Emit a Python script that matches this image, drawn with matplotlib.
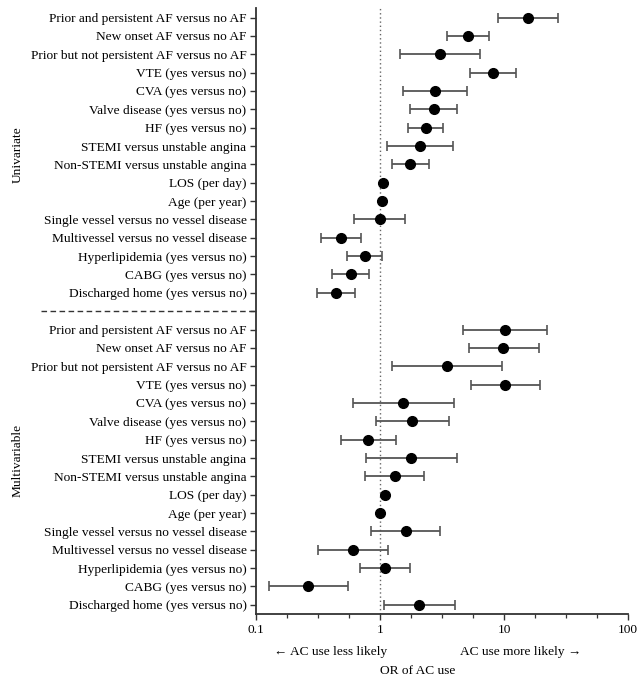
import matplotlib
matplotlib.use("Agg")
import matplotlib.pyplot as plt
from matplotlib.ticker import FixedLocator, NullFormatter
import numpy as np

plt.rcParams["font.family"] = ["Liberation Serif", "DejaVu Serif"]

labels = [
    "Prior and persistent AF versus no AF",
    "New onset AF versus no AF",
    "Prior but not persistent AF versus no AF",
    "VTE (yes versus no)",
    "CVA (yes versus no)",
    "Valve disease (yes versus no)",
    "HF (yes versus no)",
    "STEMI versus unstable angina",
    "Non-STEMI versus unstable angina",
    "LOS (per day)",
    "Age (per year)",
    "Single vessel versus no vessel disease",
    "Multivessel versus no vessel disease",
    "Hyperlipidemia (yes versus no)",
    "CABG (yes versus no)",
    "Discharged home (yes versus no)",
]

# univariate odds ratios and 95% CI (None = no CI drawn)
uni_or = [15.6, 5.1, 3.04, 8.2, 2.79, 2.72, 2.34, 2.08, 1.75, 1.06, 1.03, 0.99, 0.48, 0.75, 0.58, 0.44]
uni_lo = [9.0, 3.48, 1.44, 5.3, 1.53, 1.75, 1.69, 1.13, 1.25, None, None, 0.615, 0.33, 0.54, 0.41, 0.31]
uni_hi = [27.2, 7.6, 6.4, 12.6, 5.0, 4.2, 3.23, 3.87, 2.48, None, None, 1.58, 0.70, 1.03, 0.81, 0.63]

# multivariable odds ratios and 95% CI
mv_or = [10.2, 9.9, 3.46, 10.2, 1.54, 1.81, 0.80, 1.77, 1.31, 1.10, 1.0, 1.61, 0.605, 1.10, 0.26, 2.07]
mv_lo = [4.66, 5.17, 1.25, 5.4, 0.605, 0.92, 0.48, 0.77, 0.75, None, None, 0.84, 0.316, 0.69, 0.126, 1.08]
mv_hi = [22.4, 19.1, 9.6, 19.4, 3.92, 3.57, 1.33, 4.17, 2.27, None, None, 3.06, 1.16, 1.75, 0.55, 4.01]

x_ticks = [0.1, 1, 10, 100]
x_ticklabels = ["0.1", "1", "10", "100"]

n = len(labels)
ypos_uni = np.arange(n)
ypos_mv = np.arange(n) + n + 1
sep_y = n

fig = plt.figure(figsize=(6.44, 6.82), dpi=100)
ax = fig.add_axes([0.398, 0.0997, 0.577, 0.888])

line_col = "#555555"
for ypos, ors, los, his in [(ypos_uni, uni_or, uni_lo, uni_hi), (ypos_mv, mv_or, mv_lo, mv_hi)]:
    for y, o, lo, hi in zip(ypos, ors, los, his):
        if lo is not None:
            ax.errorbar([o], [y], xerr=[[o - lo], [hi - o]], fmt="none",
                        ecolor=line_col, elinewidth=1.3, capsize=3.5, capthick=1.2)
        ax.plot([o], [y], "o", color="black", markersize=7, zorder=3)

ax.axvline(1, color="#666666", linestyle=(0, (1, 2)), linewidth=1.0, zorder=1)

ax.set_xscale("log")
ax.set_xlim(0.1, 100)
ax.set_ylim(n * 2 + 0.5, -0.5)
ax.xaxis.set_major_locator(FixedLocator(x_ticks))
ax.set_xticklabels(x_ticklabels)
ax.xaxis.set_minor_locator(FixedLocator([10 ** (k / 4) for k in range(-4, 8) if k % 4 != 0]))
ax.xaxis.set_minor_formatter(NullFormatter())

yticks = list(ypos_uni) + [sep_y] + list(ypos_mv)
ax.set_yticks(yticks)
ax.set_yticklabels(labels + [""] + labels)

for s in ["top", "right"]:
    ax.spines[s].set_visible(False)
for s in ["left", "bottom"]:
    ax.spines[s].set_color("#333333")
    ax.spines[s].set_linewidth(1.3)
ax.tick_params(axis="both", which="major", length=4, width=1.0, color="#333333", labelsize=9.6)
ax.tick_params(axis="x", which="minor", length=3, width=0.9, color="#333333")
ax.tick_params(axis="y", pad=3)

# dashed separator between the two panels, running into the label area
ax.plot([-0.58, 0.0], [sep_y, sep_y], transform=ax.get_yaxis_transform(),
        color="#333333", linestyle=(0, (4, 2.5)), linewidth=1.0, clip_on=False)

fig.text(0.028, 1 - 155 / 682, "Univariate", rotation=90, ha="center", va="center", fontsize=9.6)
fig.text(0.028, 1 - 460 / 682, "Multivariable", rotation=90, ha="center", va="center", fontsize=9.6)

fig.text(331 / 644, 1 - 652 / 682, "\u2190 AC use less likely", ha="center", va="center", fontsize=9.6)
fig.text(521 / 644, 1 - 652 / 682, "AC use more likely \u2192", ha="center", va="center", fontsize=9.6)
fig.text(418 / 644, 1 - 671 / 682, "OR of AC use", ha="center", va="center", fontsize=9.6)

fig.savefig("out.png", dpi=100)
